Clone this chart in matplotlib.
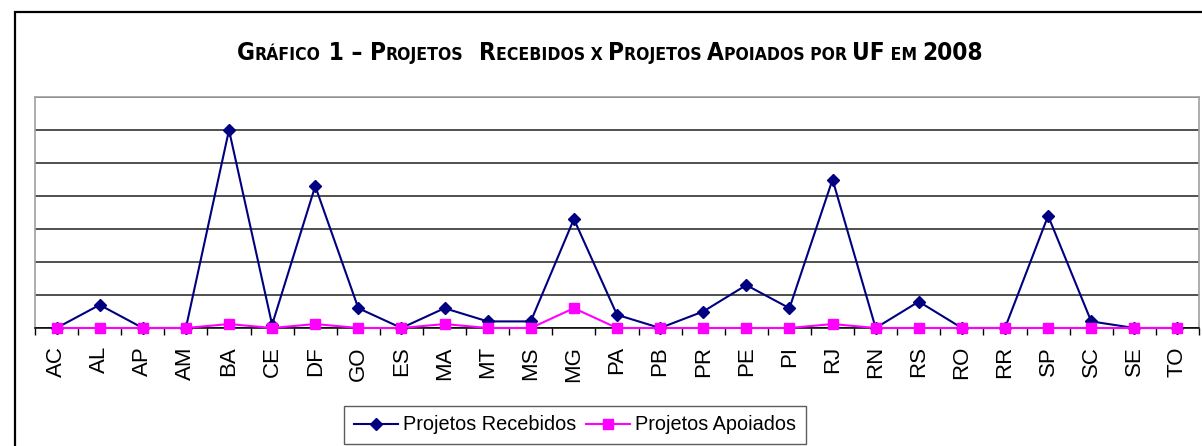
import matplotlib
matplotlib.use('Agg')
import numpy as np
from matplotlib import pyplot as plt
from matplotlib.patches import Rectangle
from matplotlib.offsetbox import TextArea, HPacker, AnnotationBbox

ufs = ['AC', 'AL', 'AP', 'AM', 'BA', 'CE', 'DF', 'GO', 'ES', 'MA', 'MT', 'MS', 'MG', 'PA',
       'PB', 'PR', 'PE', 'PI', 'RJ', 'RN', 'RS', 'RO', 'RR', 'SP', 'SC', 'SE', 'TO']
recebidos = [0, 7, 0, 0, 60, 1, 43, 6, 0, 6, 2, 2, 33, 4,
             0, 5, 13, 6, 45, 0, 8, 0, 0, 34, 2, 0, 0]
apoiados = [0, 0, 0, 0, 1.2, 0, 1.2, 0, 0, 1.2, 0, 0, 6, 0,
            0, 0, 0, 0, 1.2, 0, 0, 0, 0, 0, 0, 0, 0]

W, H = 1202, 446
fig = plt.figure(figsize=(W / 100, H / 100), dpi=100)

# outer frame (only left and top visible)
fig.patches.append(Rectangle((15 / W, -0.2), 1.2, 1 - 12 / H + 0.2, transform=fig.transFigure,
                             fill=False, edgecolor='black', linewidth=1.6))

ax = fig.add_axes([35 / W, 1 - 328 / H, (1199 - 35) / W, (328 - 97) / H])
x = np.arange(len(ufs))
ax.plot(x, recebidos, color='#000080', lw=1.5, marker='D', ms=6, label='Projetos Recebidos', clip_on=False, zorder=3)
ax.plot(x, apoiados, color='#FF00FF', lw=1.5, marker='s', ms=7, label='Projetos Apoiados', clip_on=False, zorder=4)

ax.set_xlim(-0.5, len(ufs) - 0.5)
ax.set_ylim(0, 70)
ax.set_yticks(np.arange(0, 71, 10))
ax.yaxis.grid(True, color='#202020', lw=1.1)
ax.tick_params(axis='y', left=False, labelleft=False)

ax.set_xticks(x)
ax.set_xticklabels(ufs, rotation=90, fontsize=16, family='Liberation Sans')
ax.set_xticks(np.arange(-0.5, len(ufs)), minor=True)
ax.tick_params(axis='x', which='major', length=0, pad=13)
ax.tick_params(axis='x', which='minor', length=5, width=1, color='black', direction='out')

for s in ['left', 'top', 'right']:
    ax.spines[s].set_color('#a0a0a0')
    ax.spines[s].set_linewidth(1.2)
ax.spines['bottom'].set_color('black')
ax.spines['bottom'].set_linewidth(1.1)

leg = fig.legend(loc='center', bbox_to_anchor=(575 / W, 1 - 425 / H), ncol=2,
                 prop={'family': 'Liberation Sans', 'size': 14.3}, frameon=True, fancybox=False,
                 edgecolor='#333333', handlelength=2.2, handletextpad=0.25, columnspacing=0.5,
                 borderpad=0.5, borderaxespad=0)
leg.get_frame().set_linewidth(1.0)

# title in small caps
fam = ['DejaVu Sans']
big, small = 17.5, 12.6
pieces = [('G', big), ('RÁFICO', small), (' 1 – ', big), ('P', big), ('ROJETOS', small), ('  ', big),
          ('R', big), ('ECEBIDOS X ', small), ('P', big), ('ROJETOS ', small), ('A', big),
          ('POIADOS POR ', small), ('UF', big), (' EM ', small), ('2008', big)]
areas = [TextArea(t, textprops=dict(fontsize=s, fontweight='bold', fontstretch='condensed',
                                    family=fam, color='black'))
         for t, s in pieces]
box = HPacker(children=areas, align='baseline', pad=0, sep=0)
ab = AnnotationBbox(box, (610 / W, 1 - 53 / H), xycoords='figure fraction', frameon=False,
                    box_alignment=(0.5, 0.5))
fig.add_artist(ab)

fig.savefig('out.png', dpi=100)
